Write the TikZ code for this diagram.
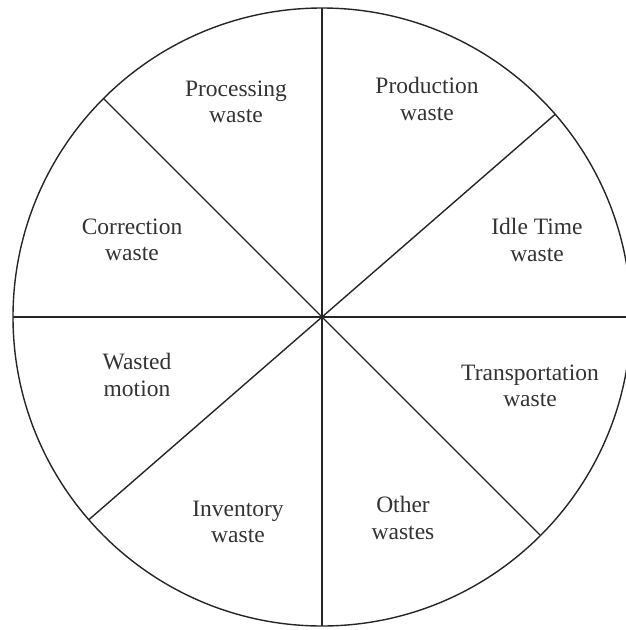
\documentclass[tikz,border=0pt]{standalone}
\usepackage{fontspec}
\setmainfont{Liberation Serif}
\begin{document}
\begin{tikzpicture}[x=1pt,y=-1pt,
  spoke/.style={line width=1.4pt,black!85},
  lbl/.style={align=center,font=\fontsize{23.5}{26.5}\selectfont,inner sep=0pt,text=black!80}]
\useasboundingbox (0,0) rectangle (625,630);
\node[circle,draw,line width=1.4pt,black!85,minimum size=618pt,inner sep=0pt,outer sep=0pt] (wheel) at (322,317) {};
\draw[spoke] (wheel.north) -- (wheel.south);
\draw[spoke] (wheel.west) -- (wheel.east);
\draw[spoke] (wheel.41.7) -- (wheel.221.9);
\draw[spoke] (wheel.135.4) -- (wheel.315.6);
\node[lbl] (proc) at (236,102) {Processing\\waste};
\node[lbl] (prod) at (427,99) {Production\\waste};
\node[lbl] (idle) at (537,240) {Idle Time\\waste};
\node[lbl] (corr) at (132,240) {Correction\\waste};
\node[lbl] (motion) at (137,375) {Wasted\\motion};
\node[lbl] (trans) at (530,386) {Transportation\\waste};
\node[lbl] (inv) at (238,522) {Inventory\\waste};
\node[lbl] (other) at (403,518) {Other\\wastes};
\end{tikzpicture}
\end{document}
